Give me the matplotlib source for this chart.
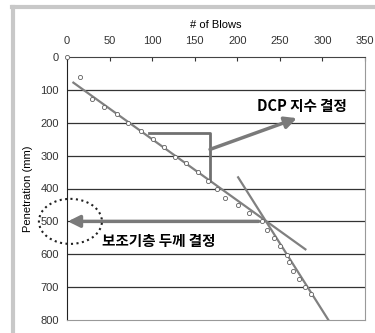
import matplotlib
matplotlib.use('Agg')
import matplotlib.pyplot as plt
from matplotlib.patches import Ellipse
from matplotlib.lines import Line2D

plt.rcParams['font.family'] = ['Liberation Sans', 'Noto Sans CJK KR']

# 타격 횟수 / 관입량 (mm)
blows = [0, 15, 29, 44, 59, 72, 87, 101, 114, 127, 140, 154, 166, 176, 185,
         201, 214, 229, 235, 243, 250, 258, 261, 265, 272, 280, 286]
penetration = [0, 61, 127, 151, 174, 201, 225, 250, 275, 303, 323, 350, 376, 401, 428,
               449, 475, 500, 526, 551, 574, 602, 625, 650, 676, 701, 722]

# 추세선 두 개 (끝점)
fit1_x = [7.5, 280]
fit1_y = [78, 585]
fit2_x = [201, 307]
fit2_y = [366, 800]

# DCP 지수 표시용 꺾은선
step_x = [96, 168, 168]
step_y = [230, 230, 376]

xticks = [0, 50, 100, 150, 200, 250, 300, 350]
yticks = [0, 100, 200, 300, 400, 500, 600, 700, 800]

fig = plt.figure(figsize=(3.75, 3.33), dpi=100)
ax = fig.add_axes([67/375, 1-320/333, (365-67)/375, (320-57)/333])

ax.set_xlim(0, 350)
ax.set_ylim(800, 0)
ax.xaxis.tick_top()
ax.xaxis.set_label_position('top')
ax.set_xticks(xticks)
ax.set_yticks(yticks)
ax.tick_params(axis='x', direction='in', length=3, labelsize=8, pad=8, colors='#333333')
ax.tick_params(axis='y', length=0, labelsize=8, pad=6, colors='#333333')
ax.set_xlabel('# of Blows', fontsize=8, labelpad=6)
ax.set_ylabel('Penetration (mm)', fontsize=8, labelpad=5)

for y in yticks[1:-1]:
    ax.axhline(y, color='#333333', lw=0.9, zorder=1)
ax.spines['left'].set_color('#222222')
ax.spines['top'].set_color('#444444')
ax.spines['top'].set_linewidth(0.8)
ax.spines['right'].set_color('#999999')
ax.spines['bottom'].set_color('#999999')

ax.plot(fit1_x, fit1_y, color='#808080', lw=1.6, zorder=3)
ax.plot(fit2_x, fit2_y, color='#808080', lw=1.6, zorder=3)
ax.plot(blows, penetration, 'o', ms=3, mfc='white', mec='#606060', mew=0.6, zorder=4,
        clip_on=False)

ax.plot(step_x, step_y, color='#707070', lw=2, zorder=3)

arrow = dict(arrowstyle='-|>,head_length=0.7,head_width=0.35', color='#7a7a7a', lw=2.5,
             shrinkA=0, shrinkB=0)
ax.annotate('', xy=(1, 500), xytext=(225, 500), arrowprops=arrow, zorder=5)
ax.annotate('', xy=(270, 186), xytext=(168, 281), arrowprops=arrow, zorder=5)

ax.text(276, 149, 'DCP 지수 결정', family=['Noto Sans CJK KR'], weight='bold',
        fontsize=10.5, ha='center', va='center')
ax.text(108, 559, '보조기층 두께 결정', family=['Noto Sans CJK KR'], weight='bold',
        fontsize=10.5, ha='center', va='center')

ax.add_patch(Ellipse((4, 500), 74, 137, fill=False, ls=':', lw=1.5, color='#222222',
                     clip_on=False, zorder=6))

# 바깥 회색 테두리
fig.add_artist(Line2D([12/375, 1], [1-7/333, 1-7/333], color='#c8c8c8', lw=3))
fig.add_artist(Line2D([13/375, 13/375], [0, 1-7/333], color='#c8c8c8', lw=3))

fig.savefig('out.png', dpi=100)
